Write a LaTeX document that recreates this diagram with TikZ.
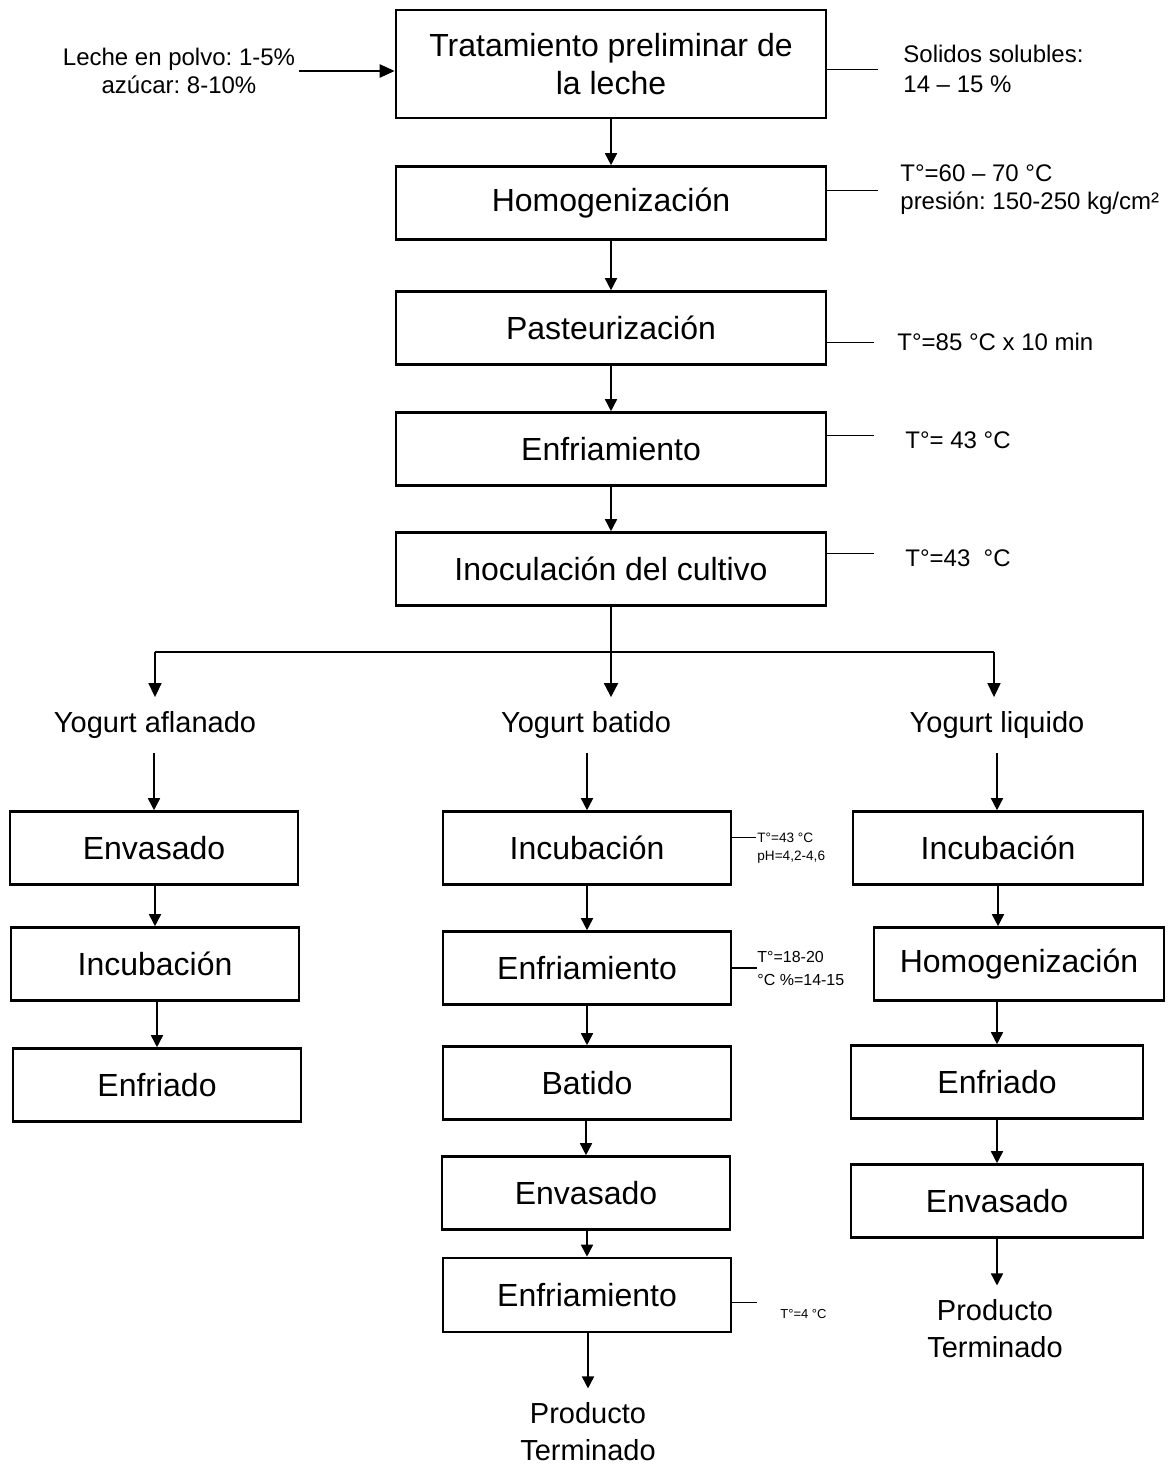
\documentclass[tikz,border=0pt]{standalone}
\usepackage{fontspec}
\setmainfont{Liberation Sans}
\usetikzlibrary{arrows.meta}
\frenchspacing

\begin{document}
\begin{tikzpicture}[x=0.5pt, y={(0pt,-0.5pt)},
      stage/.style={rectangle, draw=black, line width=1.3pt, minimum width=144pt, minimum height=36.5pt, inner sep=0pt, align=center, font=\fontsize{16}{19}\selectfont},
      wide/.style={stage, minimum width=215pt},
      product/.style={align=center, inner xsep=2pt, inner ysep=7pt, font=\fontsize{14.5}{18.5}\selectfont},
      note/.style={anchor=west, align=left, inner sep=0pt, font=\fontsize{12}{15}\selectfont},
      smallnote/.style={note, font=\fontsize{6.8}{9}\selectfont},
      arrow/.style={-{Triangle[length=6pt, width=6pt]}, line width=0.8pt},
      tick/.style={line width=0.5pt}
   ]
      \useasboundingbox (0,0) rectangle (1169,1467);

      % Main line
      \node (trat)  [wide, minimum height=54pt] at (611,64) {Tratamiento preliminar de\\la leche};
      \node (homog) [wide] at (611,203) {Homogenización};
      \node (past)  [wide] at (611,328) {Pasteurización};
      \node (enfr)  [wide] at (611,449) {Enfriamiento};
      \node (inoc)  [wide] at (611,569) {Inoculación del cultivo};

      % Inputs and conditions of the main line
      \node (leche)    [note, anchor=center, align=center, inner xsep=2pt, font=\fontsize{12}{14}\selectfont] at (179,71) {Leche en polvo: 1-5\%\\azúcar: 8-10\%};
      \node (solidos)  [note] at (903,69)  {Solidos solubles:\\14 – 15 \%};
      \node (homnote)  [note, font=\fontsize{12}{14}\selectfont] at (900,190) {T°=60 – 70 °C\\presión: 150-250 kg/cm²};
      \node (pastnote) [note] at (897,342) {T°=85 °C x 10 min};
      \node (enfrnote) [note] at (905,440) {T°= 43 °C};
      \node (inocnote) [note] at (905,558) {T°=43\ \ °C};

      % Three products
      \node (yafl) [product] at (155,725) {Yogurt aflanado};
      \node (ybat) [product] at (586,725) {Yogurt batido};
      \node (yliq) [product] at (997,725) {Yogurt liquido};

      % Column 1
      \node (envA)  [stage] at (154,848)  {Envasado};
      \node (incA)  [stage] at (155,964)  {Incubación};
      \node (enfdA) [stage] at (157,1085) {Enfriado};

      % Column 2
      \node (incB)  [stage] at (587,848)  {Incubación};
      \node (enfB)  [stage] at (587,968)  {Enfriamiento};
      \node (batB)  [stage] at (587,1083) {Batido};
      \node (envB)  [stage] at (586,1193) {Envasado};
      \node (enf2B) [stage, minimum height=37pt] at (587,1295) {Enfriamiento};
      \node (prodB) [product] at (588,1432) {Producto\\Terminado};

      \node (incnote) [smallnote] at (757,848) {T°=43 °C\\pH=4,2-4,6};
      \node (enfnote) [note, font=\fontsize{8}{11.5}\selectfont] at (757,968) {T°=18-20\\°C \%=14-15};
      \node (t4note)  [smallnote, font=\fontsize{6.5}{8}\selectfont] at (780,1314) {T°=4 °C};

      % Column 3
      \node (incC)  [stage, minimum width=145pt] at (998,848)  {Incubación};
      \node (homC)  [stage, minimum width=145pt] at (1019,964) {Homogenización};
      \node (enfdC) [stage, minimum width=146pt] at (997,1082) {Enfriado};
      \node (envC)  [stage, minimum width=146pt] at (997,1201) {Envasado};
      \node (prodC) [product] at (995,1329) {Producto\\Terminado};

      % Main line arrows
      \draw[arrow, line width=1.2pt, -{Triangle[length=7.5pt, width=6.5pt]}] (leche.east) -- (leche.east -| trat.west);
      \foreach \a/\b in {trat/homog, homog/past, past/enfr, enfr/inoc}
         \draw[arrow] (\a) -- (\b);

      % Condition ticks
      \draw[tick] (solidos.west -| trat.east)   -- ++(51,0);
      \draw[tick] (homnote.west -| homog.east)  -- ++(51,0);
      \draw[tick] (pastnote.west -| past.east)  -- ++(47,0);
      \draw[tick] ([yshift=2.5pt]enfrnote.west -| enfr.east) -- ++(47,0);
      \draw[tick] ([yshift=2.5pt]inocnote.west -| inoc.east) -- ++(47,0);

      % Split into three
      \coordinate (splitL) at (155,652);
      \coordinate (splitR) at (994,652);
      \draw[line width=0.8pt] (splitL) -- (splitR);
      \draw[arrow, line width=1pt, -{Triangle[length=7pt, width=7pt]}] (inoc.south) -- (inoc.south |- ybat.north);
      \draw[arrow, -{Triangle[length=7pt, width=6.5pt]}] (splitL) -- (splitL |- yafl.north);
      \draw[arrow, -{Triangle[length=7pt, width=6.5pt]}] (splitR) -- (splitR |- yliq.north);

      % Column arrows
      \foreach \a/\b in {yafl/envA, envA/incA, incA/enfdA, ybat/incB, incB/enfB, enfB/batB, batB/envB, envB/enf2B, enf2B/prodB}
         \draw[arrow] (\b.north |- \a.south) -- (\b.north);
      \draw[arrow] (yliq.south) -- (yliq.south |- incC.north);
      \draw[arrow] (incC.south) -- (incC.south |- homC.north);
      \draw[arrow] (enfdC.north |- homC.south) -- (enfdC.north);
      \draw[arrow] (enfdC) -- (envC);
      \draw[arrow] (envC.south) -- (envC.south |- prodC.north);

      % Column 2 condition ticks
      \draw[tick] ([yshift=5.5pt]incB.east) -- ++(24,0);
      \draw[tick, line width=1pt] (enfnote.west -| enfB.east) -- (enfnote.west);
      \draw[tick] ([yshift=-3.5pt]enf2B.east) -- ++(25,0);
   \end{tikzpicture}
\end{document}
